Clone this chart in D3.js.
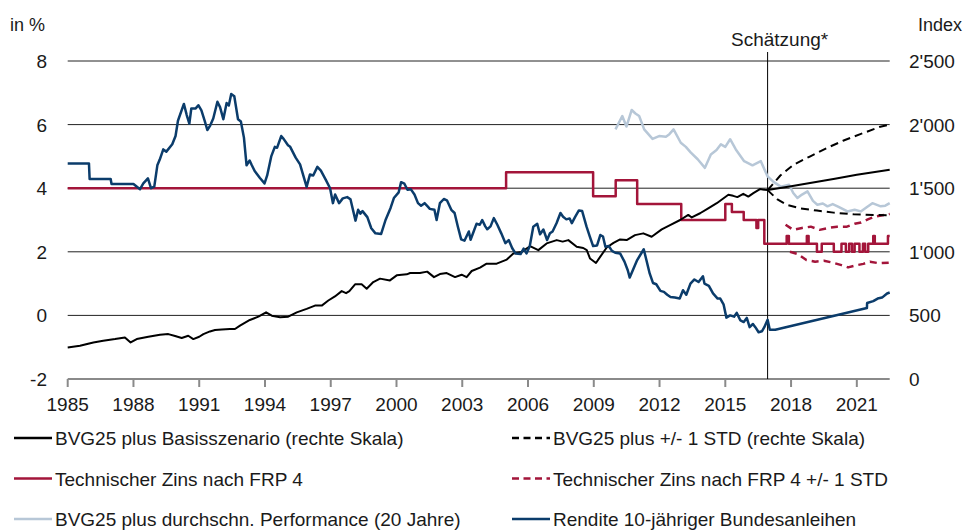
<!DOCTYPE html>
<html>
<head>
<meta charset="utf-8">
<script src="https://cdn.jsdelivr.net/npm/d3@7"></script>
<style>
  body { margin: 0; background: #fff; }
  svg text { font-family: "Liberation Sans", Arial, sans-serif; fill: #1a1a1a; }
</style>
</head>
<body>
<div id="chart"></div>
<script>
// Data (years as decimals, left axis in %, right axis as index)

var yearTicks = [1985, 1988, 1991, 1994, 1997, 2000, 2003, 2006, 2009, 2012, 2015, 2018, 2021];
var leftTicks = [-2, 0, 2, 4, 6, 8];
var rightTicks = [0, 500, 1000, 1500, 2000, 2500];
var estimateYear = 2016.93;

// Rendite 10-jähriger Bundesanleihen (%)
var bondYears = [1985.0, 1985.97, 1986.0, 1986.96, 1987.0, 1988.0, 1988.3, 1988.45, 1988.66, 1988.8, 1988.95, 1989.09, 1989.2, 1989.36, 1989.5, 1989.77, 1989.92,
  1990.03, 1990.3, 1990.43, 1990.55, 1990.64, 1990.84, 1990.96, 1991.1, 1991.25, 1991.37, 1991.5, 1991.64, 1991.83, 1991.95, 1992.1, 1992.25, 1992.35, 1992.46,
  1992.6, 1992.77, 1992.9, 1993.04, 1993.16, 1993.3, 1993.4, 1993.53, 1993.77, 1993.98, 1994.1, 1994.29, 1994.45, 1994.55, 1994.74, 1994.85, 1995.05, 1995.15,
  1995.4, 1995.6, 1995.9, 1996.05, 1996.2, 1996.39, 1996.55, 1996.77, 1996.97, 1997.1, 1997.2, 1997.38, 1997.55, 1997.75, 1997.9, 1998.13, 1998.25, 1998.35,
  1998.45, 1998.67, 1998.85, 1999.04, 1999.3, 1999.5, 1999.73, 1999.88, 2000.1, 2000.21, 2000.36, 2000.5, 2000.65, 2000.82, 2000.98, 2001.12, 2001.28, 2001.43,
  2001.52, 2001.73, 2001.83, 2001.98, 2002.16, 2002.3, 2002.5, 2002.65, 2002.8, 2002.95, 2003.1, 2003.3, 2003.38, 2003.52, 2003.65, 2003.8, 2003.91, 2004.05,
  2004.14, 2004.29, 2004.44, 2004.6, 2004.78, 2004.97, 2005.12, 2005.28, 2005.43, 2005.66, 2005.8, 2005.93, 2006.08, 2006.24, 2006.42, 2006.55, 2006.7, 2006.87,
  2007.0, 2007.12, 2007.3, 2007.48, 2007.6, 2007.75, 2007.9, 2008.0, 2008.15, 2008.32, 2008.47, 2008.67, 2008.82, 2008.97, 2009.15, 2009.3, 2009.42, 2009.53,
  2009.68, 2009.83, 2009.98, 2010.2, 2010.4, 2010.55, 2010.64, 2010.8, 2010.98, 2011.12, 2011.28, 2011.4, 2011.55, 2011.7, 2011.85, 2012.04, 2012.2, 2012.35,
  2012.5, 2012.7, 2012.92, 2013.07, 2013.22, 2013.41, 2013.59, 2013.78, 2013.98, 2014.05, 2014.25, 2014.44, 2014.65, 2014.77, 2014.92, 2015.05, 2015.22, 2015.4,
  2015.52, 2015.69, 2015.84, 2015.98, 2016.11, 2016.26, 2016.37, 2016.52, 2016.67, 2016.78, 2016.93, 2017.03, 2017.28, 2021.46, 2021.47, 2021.75, 2021.95,
  2022.15, 2022.38, 2022.5];
var bondValues = [4.78, 4.78, 4.29, 4.29, 4.13, 4.13, 3.97, 4.15, 4.31, 4.0, 4.05, 4.72, 4.9, 5.22, 5.15, 5.38, 5.64,
  6.12, 6.65, 6.30, 6.03, 6.51, 6.51, 6.61, 6.45, 6.12, 5.83, 5.97, 6.19, 6.72, 6.55, 6.17, 6.68, 6.6, 6.96,
  6.89, 6.17, 6.1, 5.59, 4.72, 4.87, 4.72, 4.54, 4.32, 4.15, 4.4, 5.01, 5.3, 5.27, 5.64, 5.55, 5.35, 5.3,
  4.96, 4.75, 4.04, 4.43, 4.4, 4.67, 4.55, 4.27, 4.0, 3.53, 3.8, 3.53, 3.68, 3.72, 3.65, 2.98, 3.32, 3.2,
  3.28, 3.09, 2.74, 2.58, 2.56, 3.0, 3.38, 3.69, 3.87, 4.19, 4.14, 3.95, 3.97, 3.8, 3.53, 3.45, 3.53, 3.42,
  3.35, 3.32, 3.0, 3.53, 3.66, 3.62, 3.32, 3.22, 2.79, 2.39, 2.35, 2.64, 2.38, 2.64, 2.88, 2.85, 3.0, 2.8,
  2.71, 2.8, 3.06, 2.85, 2.58, 2.27, 2.37, 2.11, 1.95, 1.93, 2.1, 1.95, 2.18, 2.79, 2.88, 2.55, 2.7, 2.37,
  2.58, 2.64, 2.9, 3.22, 3.1, 3.02, 3.05, 2.9, 3.1, 3.3, 3.28, 2.79, 2.48, 2.18, 2.2, 2.53, 2.48, 2.16,
  2.18, 2.03, 1.97, 1.95, 1.69, 1.42, 1.19, 1.45, 1.74, 1.9, 2.08, 1.74, 1.32, 1.02, 0.98, 0.77, 0.74, 0.65,
  0.58, 0.56, 0.53, 0.79, 0.65, 1.0, 1.13, 1.05, 1.23, 1.0, 0.93, 0.69, 0.53, 0.53, 0.35, -0.07, 0.0, -0.04,
  0.08, -0.16, -0.21, -0.08, -0.37, -0.27, -0.37, -0.53, -0.5, -0.37, -0.14, -0.45, -0.45, 0.23, 0.39, 0.45, 0.53,
  0.56, 0.69, 0.72];

// BVG25 plus Basisszenario (Index, rechte Skala)
var bvgYears = [1985.0, 1985.56, 1986.17, 1986.62, 1987.16, 1987.61, 1987.87, 1988.15, 1988.68, 1989.21, 1989.59, 1989.9, 1990.2, 1990.5, 1990.73,
  1991.0, 1991.19, 1991.49, 1991.72, 1992.03, 1992.4, 1992.63, 1992.86, 1993.31, 1993.7, 1994.05, 1994.31, 1994.69, 1995.06, 1995.45, 1995.9,
  1996.28, 1996.59, 1996.89, 1997.19, 1997.5, 1997.7, 1997.85, 1998.11, 1998.41, 1998.64, 1998.94, 1999.25, 1999.7, 2000.01, 2000.47, 2000.62,
  2001.07, 2001.4, 2001.71, 2001.98, 2002.29, 2002.67, 2002.97, 2003.2, 2003.43, 2003.81, 2004.11, 2004.57, 2005.03, 2005.33, 2005.71, 2006.09,
  2006.47, 2006.85, 2007.31, 2007.58, 2007.84, 2008.22, 2008.52, 2008.68, 2008.83, 2009.1, 2009.29, 2009.59, 2009.9, 2010.2, 2010.5, 2010.88,
  2011.26, 2011.64, 2012.1, 2012.48, 2012.94, 2013.31, 2013.47, 2013.85, 2014.22, 2014.61, 2015.14, 2015.36, 2015.55, 2015.82, 2016.05, 2016.28,
  2016.58, 2016.81, 2016.93];
var bvgValues = [248, 261, 287, 301, 314, 327, 287, 314, 332, 348, 353, 338, 322, 340, 314,
  332, 353, 374, 385, 390, 393, 393, 419, 464, 490, 524, 498, 485, 490, 524, 551,
  577, 577, 617, 649, 691, 675, 691, 744, 744, 710, 762, 789, 775, 815, 823, 833,
  833, 844, 801, 825, 833, 801, 820, 801, 849, 876, 907, 907, 939, 986, 999, 1044,
  1013, 1066, 1092, 1080, 1092, 1039, 1030, 1013, 947, 912, 960, 1034, 1070, 1097, 1092, 1131,
  1145, 1118, 1176, 1210, 1250, 1290, 1270, 1303, 1342, 1382, 1448, 1440, 1430, 1456, 1434, 1461,
  1493, 1487, 1485];

// Schätzung: Basisszenario und +/- 1 STD (Index)
var projYears = [2016.93, 2018.0, 2019.0, 2020.0, 2021.0, 2022.5];
var projBase = [1485, 1515, 1545, 1575, 1605, 1645];
var projUpYears = [2016.93, 2017.51, 2018.12, 2018.88, 2019.64, 2020.4, 2021.16, 2022.07, 2022.5];
var projUp = [1485, 1600, 1685, 1751, 1817, 1875, 1925, 1983, 2001];
var projDownYears = [2016.93, 2017.36, 2017.81, 2018.42, 2019.18, 2019.94, 2020.85, 2021.76, 2022.5];
var projDown = [1485, 1414, 1369, 1342, 1324, 1308, 1295, 1290, 1287];

// BVG25 plus durchschn. Performance (20 Jahre), %
var perfYears = [2009.99, 2010.3, 2010.49, 2010.73, 2010.9, 2011.07, 2011.3, 2011.68, 2011.98, 2012.29, 2012.45, 2012.64, 2012.97, 2013.2, 2013.43,
  2013.74, 2014.07, 2014.34, 2014.6, 2014.8, 2015.0, 2015.22, 2015.48, 2015.86, 2016.24, 2016.62, 2016.93, 2017.2, 2017.53, 2017.91, 2018.1,
  2018.29, 2018.5, 2018.75, 2019.0, 2019.2, 2019.45, 2019.66, 2019.9, 2020.12, 2020.35, 2020.57, 2020.9, 2021.18, 2021.45, 2021.71, 2022.09,
  2022.3, 2022.5];
var perfValues = [5.85, 6.27, 5.94, 6.46, 6.35, 6.27, 5.85, 5.55, 5.64, 5.62, 5.7, 5.85, 5.43, 5.3, 5.12,
  4.91, 4.64, 5.06, 5.2, 5.38, 5.3, 5.54, 5.22, 4.85, 4.72, 4.85, 4.37, 4.2, 4.05, 4.11, 3.85,
  3.69, 3.8, 3.9, 3.6, 3.48, 3.52, 3.43, 3.5, 3.43, 3.35, 3.27, 3.32, 3.27, 3.4, 3.53, 3.43,
  3.45, 3.53];

// Technischer Zins nach FRP 4 (%), Stufen
var rateYears = [1985.0, 2005.0, 2008.97, 2010.0, 2010.98, 2012.99, 2015.0, 2015.3, 2015.84, 2016.42, 2016.5, 2016.78, 2017.8, 2017.9,
  2018.72, 2018.8, 2019.18, 2019.4, 2019.95, 2020.3, 2020.5, 2020.65, 2020.78, 2020.9, 2021.12, 2021.28, 2021.38, 2021.52, 2021.75,
  2021.82, 2022.42, 2022.5];
var rateValues = [4.0, 4.5, 3.75, 4.25, 3.5, 3.0, 3.5, 3.25, 3.0, 2.75, 3.0, 2.25, 2.5, 2.25,
  2.5, 2.25, 2.0, 2.25, 2.0, 2.25, 2.0, 2.25, 2.0, 2.25, 2.0, 2.25, 2.0, 2.25, 2.5,
  2.25, 2.5, 2.5];

// Technischer Zins nach FRP 4 +/- 1 STD (%)
var rateUpYears = [2017.75, 2018.1, 2018.5, 2018.9, 2019.3, 2019.7, 2020.1, 2020.55, 2020.9, 2021.2, 2021.5, 2021.8, 2022.5];
var rateUp = [2.85, 2.69, 2.75, 2.79, 2.69, 2.75, 2.79, 2.79, 2.88, 2.92, 3.02, 3.1, 3.19];
var rateDownYears = [2017.95, 2018.3, 2018.7, 2019.1, 2019.5, 2019.9, 2020.3, 2020.6, 2021.0, 2021.3, 2021.6, 2022.0, 2022.5];
var rateDown = [2.0, 1.93, 1.74, 1.69, 1.72, 1.66, 1.58, 1.51, 1.58, 1.62, 1.69, 1.64, 1.66];

var legendItems = [
  {label: "BVG25 plus Basisszenario (rechte Skala)", color: "#000", dash: null},
  {label: "BVG25 plus +/- 1 STD (rechte Skala)", color: "#000", dash: "7,4"},
  {label: "Technischer Zins nach FRP 4", color: "#a3153a", dash: null},
  {label: "Technischer Zins nach FRP 4 +/- 1 STD", color: "#a3153a", dash: "7,4"},
  {label: "BVG25 plus durchschn. Performance (20 Jahre)", color: "#b7c7d7", dash: null},
  {label: "Rendite 10-jähriger Bundesanleihen", color: "#0b3c6b", dash: null}
];

// Chart

var width = 964,
    height = 531;

var x = d3.scaleLinear().domain([1985, 2022.5]).range([67.7, 889.7]);
var yL = d3.scaleLinear().domain([-2, 8]).range([379, 61]);
var yR = d3.scaleLinear().domain([0, 2500]).range([379, 61]);

var fmtIndex = d3.formatLocale({decimal: ".", thousands: "'", grouping: [3], currency: ["", ""]}).format(",d");

var svg = d3.select("#chart").append("svg")
    .attr("width", width)
    .attr("height", height);

// gridlines
svg.selectAll(".grid")
    .data(leftTicks.filter(function(d) { return d > -2; }))
    .enter().append("line")
    .attr("x1", x.range()[0])
    .attr("x2", x.range()[1])
    .attr("y1", function(d) { return yL(d); })
    .attr("y2", function(d) { return yL(d); })
    .attr("stroke", "#222")
    .attr("stroke-width", 1);

// bottom axis
svg.append("line")
    .attr("x1", x.range()[0])
    .attr("x2", x.range()[1])
    .attr("y1", yL(-2))
    .attr("y2", yL(-2))
    .attr("stroke", "#8a8a8a")
    .attr("stroke-width", 2);

svg.selectAll(".xtick")
    .data(yearTicks)
    .enter().append("line")
    .attr("x1", function(d) { return x(d); })
    .attr("x2", function(d) { return x(d); })
    .attr("y1", yL(-2))
    .attr("y2", yL(-2) + 8)
    .attr("stroke", "#8a8a8a")
    .attr("stroke-width", 2);

svg.selectAll(".xlabel")
    .data(yearTicks)
    .enter().append("text")
    .attr("x", function(d) { return x(d); })
    .attr("y", 411)
    .attr("text-anchor", "middle")
    .style("font-size", "19px")
    .text(function(d) { return d; });

svg.selectAll(".ylabel")
    .data(leftTicks)
    .enter().append("text")
    .attr("x", 47)
    .attr("y", function(d) { return yL(d) + 7; })
    .attr("text-anchor", "end")
    .style("font-size", "19px")
    .text(function(d) { return d; });

svg.selectAll(".rlabel")
    .data(rightTicks)
    .enter().append("text")
    .attr("x", 909)
    .attr("y", function(d) { return yR(d) + 7; })
    .style("font-size", "19px")
    .text(function(d) { return fmtIndex(d); });

svg.append("text").attr("x", 10).attr("y", 31).style("font-size", "18px").text("in %");
svg.append("text").attr("x", 962).attr("y", 31).attr("text-anchor", "end").style("font-size", "18px").text("Index");

// Schätzung marker
svg.append("line")
    .attr("x1", x(estimateYear))
    .attr("x2", x(estimateYear))
    .attr("y1", 52)
    .attr("y2", yL(-2))
    .attr("stroke", "#000")
    .attr("stroke-width", 1);

svg.append("text")
    .attr("x", x(estimateYear) + 12)
    .attr("y", 46)
    .attr("text-anchor", "middle")
    .style("font-size", "19px")
    .text("Schätzung*");

// series

var zip = function(xs, ys) {
    return xs.map(function(d, i) { return [d, ys[i]]; });
};

var lineL = d3.line()
    .x(function(d) { return x(d[0]); })
    .y(function(d) { return yL(d[1]); });

var lineR = d3.line()
    .x(function(d) { return x(d[0]); })
    .y(function(d) { return yR(d[1]); });

var stepL = d3.line()
    .x(function(d) { return x(d[0]); })
    .y(function(d) { return yL(d[1]); })
    .curve(d3.curveStepAfter);

var drawPath = function(d, gen, color, w, dash) {
    svg.append("path")
        .datum(d)
        .attr("d", gen)
        .attr("fill", "none")
        .attr("stroke", color)
        .attr("stroke-width", w)
        .attr("stroke-linejoin", "round")
        .attr("stroke-dasharray", dash);
};

drawPath(zip(perfYears, perfValues), lineL, "#b7c7d7", 2.5, null);
drawPath(zip(rateYears, rateValues), stepL, "#a3153a", 2.5, null);
drawPath(zip(rateUpYears, rateUp), lineL, "#a3153a", 2.5, "7,5");
drawPath(zip(rateDownYears, rateDown), lineL, "#a3153a", 2.5, "7,5");
drawPath(zip(bvgYears, bvgValues), lineR, "#000", 2, null);
drawPath(zip(projYears, projBase), lineR, "#000", 2, null);
drawPath(zip(projUpYears, projUp), lineR, "#000", 2, "8,5");
drawPath(zip(projDownYears, projDown), lineR, "#000", 2, "8,5");
drawPath(zip(bondYears, bondValues), lineL, "#0b3c6b", 2.5, null);

// legend

var legend = svg.selectAll(".legend")
    .data(legendItems)
    .enter().append("g")
    .attr("transform", function(d, i) {
        return "translate(" + (i % 2 === 0 ? 14 : 512) + "," + (438 + Math.floor(i / 2) * 40.5) + ")";
    });

legend.append("line")
    .attr("x1", 0)
    .attr("x2", 38)
    .attr("stroke", function(d) { return d.color; })
    .attr("stroke-width", 2.5)
    .attr("stroke-dasharray", function(d) { return d.dash ? "7,4.5" : null; });

legend.append("text")
    .attr("x", 41)
    .attr("y", 7)
    .style("font-size", "19px")
    .text(function(d) { return d.label; });
</script>
</body>
</html>
